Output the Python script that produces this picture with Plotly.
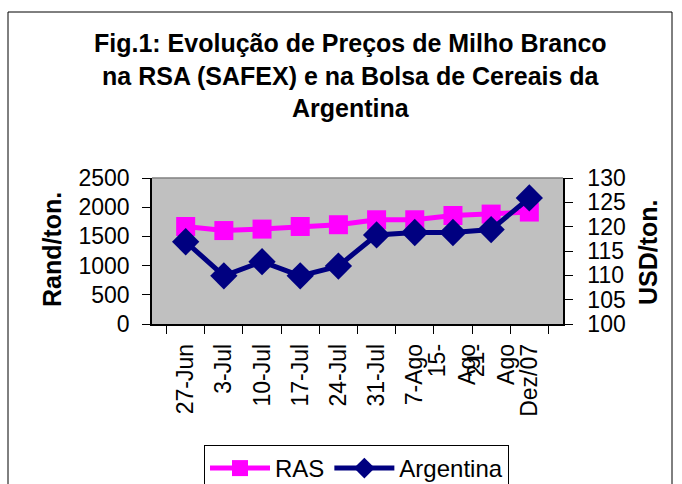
import plotly.graph_objects as go

categories = ["27-Jun", "3-Jul", "10-Jul", "17-Jul", "24-Jul", "31-Jul", "7-Ago",
              "15-<br>Ago", "21-<br>Ago", "Dez/07"]
ras_rand = [1670, 1600, 1625, 1670, 1700, 1785, 1785, 1858, 1882, 1917]
arg_usd = [116.9, 109.9, 112.8, 109.9, 111.9, 118.3, 118.8, 118.8, 119.4, 125.9]

title_lines = ["Fig.1: Evolução de Preços de Milho Branco",
               "na RSA (SAFEX) e na Bolsa de Cereais da",
               "Argentina"]

FONT = "Liberation Sans, Arial, sans-serif"

W, H = 682, 484
L, R, T, B = 152, 563, 178, 324  # plot area pixels
pw, ph = R - L, B - T

def px(x):
    return (x - L) / pw

def py(y):
    return (B - y) / ph

fig = go.Figure()
fig.add_trace(go.Scatter(
    x=categories, y=ras_rand, name="RAS", mode="lines+markers",
    line=dict(color="#ff00ff", width=5),
    marker=dict(symbol="square", size=19, color="#ff00ff"),
    yaxis="y"))
fig.add_trace(go.Scatter(
    x=categories, y=arg_usd, name="Argentina", mode="lines+markers",
    line=dict(color="#000080", width=5),
    marker=dict(symbol="diamond", size=21, color="#000080"),
    yaxis="y2"))

fig.update_layout(
    width=W, height=H,
    margin=dict(l=L, r=W - R, t=T, b=H - B, pad=0, autoexpand=False),
    paper_bgcolor="white", plot_bgcolor="#c0c0c0",
    font=dict(family=FONT, size=23, color="black"),
    showlegend=True,
    legend=dict(orientation="h", xref="container", yref="container",
                x=204 / W, y=1 - 445 / H, xanchor="left", yanchor="top",
                bordercolor="black", borderwidth=1, bgcolor="white",
                font=dict(size=24), itemwidth=60, tracegroupgap=0),
    xaxis=dict(type="category", tickson="boundaries", ticks="outside", ticklen=8,
               tickcolor="black", showline=True, linecolor="black", linewidth=1.5,
               tickangle=-90, showgrid=False, zeroline=False, mirror=False,
               tickfont=dict(size=23), automargin=False, ticklabelstandoff=9),
    yaxis=dict(range=[0, 2500], dtick=500, ticks="outside", ticklen=8, tickcolor="black",
               showline=True, linecolor="black", linewidth=1.5, showgrid=False,
               zeroline=False, tickfont=dict(size=23), ticklabelstandoff=8,
               automargin=False),
    yaxis2=dict(range=[100, 130], dtick=5, overlaying="y", side="right", ticks="outside",
                ticklen=8, tickcolor="black", showline=True, linecolor="black",
                linewidth=1.5, showgrid=False, zeroline=False, tickfont=dict(size=23),
                ticklabelstandoff=10, automargin=False),
)

# plot-area top border (gray)
fig.add_shape(type="line", xref="paper", yref="paper", x0=0, x1=1, y0=1, y1=1,
              line=dict(color="#808080", width=1.5))
# outer chart border
fig.add_shape(type="rect", xref="paper", yref="paper",
              x0=px(8), x1=px(672), y0=py(12), y1=py(495),
              line=dict(color="black", width=1), layer="below")

fig.add_annotation(text="<br>".join(title_lines), xref="paper", yref="paper",
                   x=px(350), y=py(27), xanchor="center", yanchor="top",
                   showarrow=False, align="center",
                   font=dict(family=FONT, size=25, color="black", weight="bold"))
fig.add_annotation(text="<b>Rand/ton.</b>", xref="paper", yref="paper",
                   x=px(52), y=py(250), xanchor="center", yanchor="middle",
                   textangle=-90, showarrow=False, font=dict(size=25))
fig.add_annotation(text="<b>USD/ton.</b>", xref="paper", yref="paper",
                   x=px(648), y=py(252), xanchor="center", yanchor="middle",
                   textangle=-90, showarrow=False, font=dict(size=25))

fig.write_html("out.html", config={"displayModeBar": False},
               post_script="document.body.style.margin='0';document.body.style.overflow='hidden';")
